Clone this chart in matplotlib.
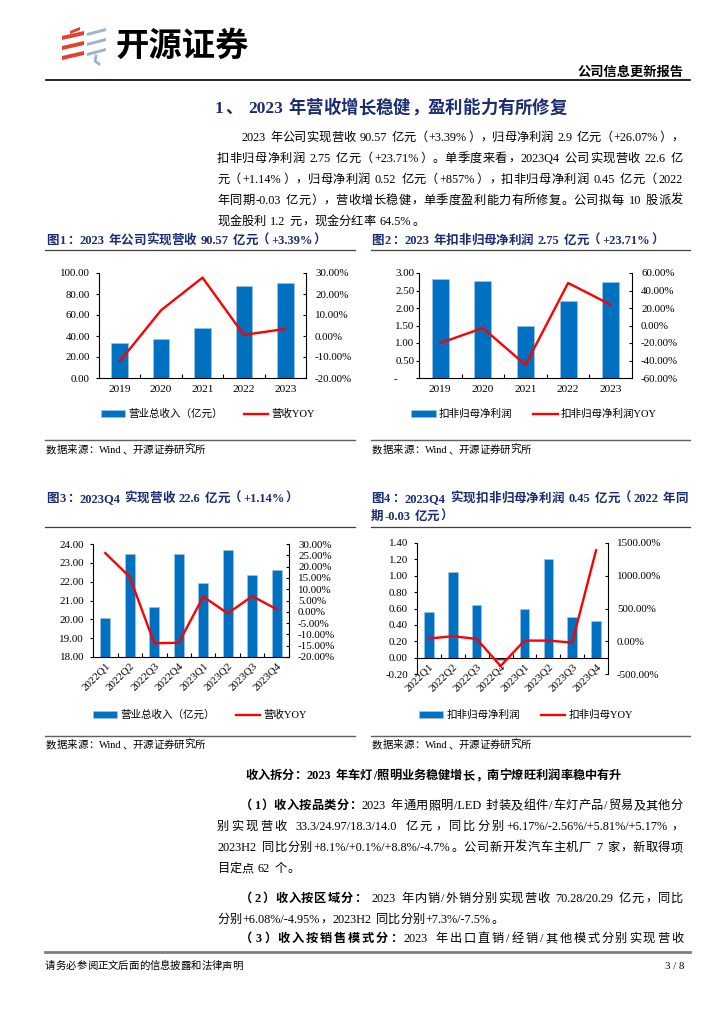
import re
import matplotlib
matplotlib.use('Agg')
import matplotlib.pyplot as plt
import numpy as np
from matplotlib.patches import Polygon

# chart data
years = ['2019', '2020', '2021', '2022', '2023']
revenue = [33.8, 37.5, 48.0, 88.0, 90.57]
revenue_yoy = [-12.1, 12.3, 27.8, 0.5, 3.39]
profit = [2.84, 2.77, 1.50, 2.21, 2.75]
profit_yoy = [-20.0, -2.9, -45.0, 48.6, 23.71]

quarters = ['2022Q1', '2022Q2', '2022Q3', '2022Q4', '2023Q1', '2023Q2', '2023Q3', '2023Q4']
q_revenue = [20.07, 23.45, 20.63, 23.47, 21.91, 23.70, 22.36, 22.60]
q_revenue_yoy = [26.0, 15.4, -13.9, -13.7, 6.7, -0.7, 6.9, 1.14]
q_profit = [0.56, 1.05, 0.64, -0.03, 0.60, 1.20, 0.50, 0.45]
q_profit_yoy = [41, 77, 36, -378, 10, 10, -20, 1389]

W, H = 724, 1024
FAM = ['Liberation Serif', 'Noto Sans CJK SC']
plt.rcParams['font.family'] = FAM
plt.rcParams['axes.unicode_minus'] = False

BLUE = '#0070C0'
EDGE = '#9DC3E6'
RED = '#FF0000'
NAVY = '#1B2C72'

fig = plt.figure(figsize=(W / 100, H / 100), dpi=100)
bg = fig.add_axes([0, 0, 1, 1])
bg.set_xlim(0, W)
bg.set_ylim(H, 0)
bg.axis('off')
R = fig.canvas.get_renderer()

LATIN = re.compile(r"[A-Za-z0-9.%+\-/]+")
TOK = re.compile(r"[A-Za-z0-9.%+\-/]+| +|.")


def put_line(x0, y, segs, size=8.8, x1=None, color='black'):
    """Draw one line of mixed CJK/Latin text on baseline y, justified to x1 if given."""
    em = size * 100 / 72
    cells = []
    for s, bold in segs:
        for t in TOK.findall(s):
            if t.strip() == '':
                cells.append((None, 0.3 * em * len(t), None))
                continue
            a = bg.text(0, y, t, fontsize=size, fontweight='bold' if bold else 'normal',
                        color=color, va='baseline', ha='left')
            if LATIN.fullmatch(t):
                cells.append((a, a.get_window_extent(R).width + 0.1 * em, 'latin'))
            else:
                cells.append((a, em, t))
    gap = 0
    if x1 is not None and len(cells) > 1:
        gap = (x1 - x0 - sum(c[1] for c in cells)) / (len(cells) - 1)
    x = x0
    for a, w, kind in cells:
        if a is not None:
            if kind == 'latin':
                a.set_x(x + 0.05 * em)
            elif kind in '，。、：；）':
                a.set_x(x + 0.06 * em)
            elif kind == '（':
                a.set_ha('right')
                a.set_x(x + 0.94 * em)
            else:
                a.set_ha('center')
                a.set_x(x + w / 2)
        x += w + gap


def nice(lo, hi, step):
    t = np.linspace(lo, hi, int(round((hi - lo) / step)) + 1)
    return np.round(t, 6) + 0.0


def combo(px, cats, bars, line, left, right, names, leg_xy, rot=False, zero=False,
          lpad=4.0, dash_zero=False):
    x0, y0, x1, y1 = px
    ax = fig.add_axes([x0 / W, 1 - y1 / H, (x1 - x0) / W, (y1 - y0) / H])
    # spine position first: moving a spine resets the tick label settings
    if zero:
        ax.spines['bottom'].set_position(('data', 0))
    pos = np.arange(len(cats))
    b = ax.bar(pos, bars, 0.4, color=BLUE, edgecolor=EDGE, linewidth=0.5, zorder=2)
    ax.set_xlim(-0.5, len(cats) - 0.5)

    ticks = nice(*left)
    ax.set_ylim(left[0], left[1])
    ax.set_yticks(ticks)
    labs = ['{:.2f}'.format(abs(t) if abs(t) < 1e-9 else t) for t in ticks]
    if dash_zero:
        labs = ['-' + ' ' * 6 if abs(t) < 1e-9 else l for t, l in zip(ticks, labs)]
    ax.set_yticklabels(labs)
    ax.tick_params(axis='y', direction='out', length=2.5, width=0.8, labelsize=7.9, pad=lpad)

    ax.set_xticks(pos)
    if rot:
        ax.set_xticklabels(cats, rotation=45, ha='right', va='top', rotation_mode='anchor')
        ax.tick_params(axis='x', which='major', length=0, labelsize=7.9, pad=3)
    else:
        ax.set_xticklabels(cats)
        ax.tick_params(axis='x', which='major', length=0, labelsize=8.2, pad=5)
    ax.set_xticks(pos[:-1] + 0.5, minor=True)
    ax.tick_params(axis='x', which='minor', direction='in', length=3, width=0.8)
    ax.spines[['top', 'right']].set_visible(False)
    for s in ('left', 'bottom'):
        ax.spines[s].set_linewidth(0.8)

    ax2 = ax.twinx()
    ln, = ax2.plot(pos, line, color=RED, lw=1.7, zorder=3)
    t2 = nice(*right)
    ax2.set_ylim(right[0], right[1])
    ax2.set_yticks(t2)
    ax2.set_yticklabels(['{:.2f}%'.format(abs(t) if abs(t) < 1e-9 else t) for t in t2])
    ax2.tick_params(axis='y', direction='in', length=2.5, width=0.8, labelsize=7.9, pad=6.5)
    ax2.spines[['top', 'left', 'bottom']].set_visible(False)
    ax2.spines['right'].set_linewidth(0.8)

    fig.legend([b, ln], names, loc='center', ncol=2, frameon=False,
               bbox_to_anchor=(leg_xy[0] / W, 1 - leg_xy[1] / H),
               fontsize=7.6, handlelength=2.3, handleheight=0.6, handletextpad=0.3,
               columnspacing=2.0, borderpad=0, borderaxespad=0)


# ---- page header ----
for yc in (37, 47, 57):
    bg.add_patch(Polygon([(62, yc + 3), (84, yc - 2), (84, yc - 6), (62, yc - 1)],
                         closed=True, color='#E2412D', lw=0))
bg.add_patch(Polygon([(70, 31), (80, 27), (80, 30), (70, 34)], closed=True, color='#E2412D', lw=0))
for yc in (33, 43, 53):
    bg.add_patch(Polygon([(87, yc + 3), (106, yc - 2), (106, yc - 5), (87, yc)],
                         closed=True, color='#9DB5C4', lw=0))
bg.plot([96, 95, 99], [56, 61, 64], color='#9DB5C4', lw=2)
bg.text(116, 46, '开源证券', fontsize=24, fontweight='bold', va='center', ha='left',
        family=['Noto Sans CJK SC'])
bg.text(684, 73, '公司信息更新报告', fontsize=9.5, fontweight='bold', va='center', ha='right')
bg.plot([46, 690], [80, 80], color='black', lw=1.2)

put_line(214, 113, [('1、 2023 年营收增长稳健，盈利能力有所修复', True)], size=12.5, color=NAVY)

para = [
    '2023 年公司实现营收 90.57 亿元（+3.39%），归母净利润 2.9 亿元（+26.07%），',
    '扣非归母净利润 2.75 亿元（+23.71%）。单季度来看，2023Q4 公司实现营收 22.6 亿',
    '元（+1.14%），归母净利润 0.52 亿元（+857%），扣非归母净利润 0.45 亿元（2022',
    '年同期-0.03 亿元），营收增长稳健，单季度盈利能力有所修复。公司拟每 10 股派发',
    '现金股利 1.2 元，现金分红率 64.5%。',
]
for i, s in enumerate(para):
    put_line(241 if i == 0 else 217, 141 + 21 * i, [(s, False)],
             x1=None if i == len(para) - 1 else 683)

# ---- chart titles and rules ----
put_line(46, 244, [('图1：2023 年公司实现营收 90.57 亿元（+3.39%）', True)], size=9, color=NAVY)
put_line(371, 244, [('图2：2023 年扣非归母净利润 2.75 亿元（+23.71%）', True)], size=9, color=NAVY)
put_line(46, 502, [('图3：2023Q4 实现营收 22.6 亿元（+1.14%）', True)], size=9, color=NAVY)
put_line(371, 502, [('图4：2023Q4 实现扣非归母净利润 0.45 亿元（2022 年同', True)], size=9,
         color=NAVY, x1=688)
put_line(371, 520, [('期-0.03 亿元）', True)], size=9, color=NAVY)

for xa, xb in ((45, 355), (371, 690)):
    bg.plot([xa, xb], [250, 250], color='#404040', lw=0.9)
    bg.plot([xa, xb], [440, 440], color='#606060', lw=1.0)
    bg.plot([xa, xb], [527, 527], color='#404040', lw=0.9)
    bg.plot([xa, xb], [736, 736], color='#606060', lw=1.0)
    for yy in (453, 748):
        put_line(xa + 1, yy, [('数据来源：Wind、开源证券研究所', False)], size=7.5)

# ---- charts ----
combo((99, 273, 306, 378), years, revenue, revenue_yoy, (0, 100, 20), (-20, 30, 10),
      ('营业总收入（亿元）', '营收YOY'), (208, 414))
combo((419, 273, 632, 378), years, profit, profit_yoy, (0, 3, 0.5), (-60, 60, 20),
      ('扣非归母净利润', '扣非归母净利润YOY'), (534, 414), lpad=0.8, dash_zero=True)
combo((93, 544, 289, 657), quarters, q_revenue, q_revenue_yoy, (18, 24, 1), (-20, 30, 5),
      ('营业总收入（亿元）', '营收YOY'), (200, 715), rot=True)
combo((417, 543, 608, 674), quarters, q_profit, q_profit_yoy, (-0.2, 1.4, 0.2), (-500, 1500, 500),
      ('扣非归母净利润', '扣非归母YOY'), (526, 715), rot=True, zero=True)

# ---- lower text ----
put_line(245, 779, [('收入拆分：2023 年车灯/照明业务稳健增长，南宁燎旺利润率稳中有升', True)])
put_line(241, 809, [('（1）收入按品类分：', True), ('2023 年通用照明/LED 封装及组件/车灯产品/贸易及其他分', False)], x1=683)
put_line(217, 830, [('别实现营收 33.3/24.97/18.3/14.0 亿元，同比分别+6.17%/-2.56%/+5.81%/+5.17%，', False)], x1=683)
put_line(217, 851, [('2023H2 同比分别+8.1%/+0.1%/+8.8%/-4.7%。公司新开发汽车主机厂 7 家，新取得项', False)], x1=683)
put_line(217, 872, [('目定点 62 个。', False)])
put_line(241, 902, [('（2）收入按区域分：', True), (' 2023 年内销/外销分别实现营收 70.28/20.29 亿元，同比', False)], x1=683)
put_line(217, 923, [('分别+6.08%/-4.95%，2023H2 同比分别+7.3%/-7.5%。', False)])
put_line(241, 942, [('（3）收入按销售模式分：', True), ('2023 年出口直销/经销/其他模式分别实现营收', False)], x1=683)

# ---- footer ----
bg.plot([45, 690], [952, 952], color='#808080', lw=2)
put_line(45, 969, [('请务必参阅正文后面的信息披露和法律声明', False)], size=7.5)
bg.text(684, 969, '3 / 8', fontsize=7.8, ha='right', va='baseline')

fig.savefig('out.png', dpi=100)
